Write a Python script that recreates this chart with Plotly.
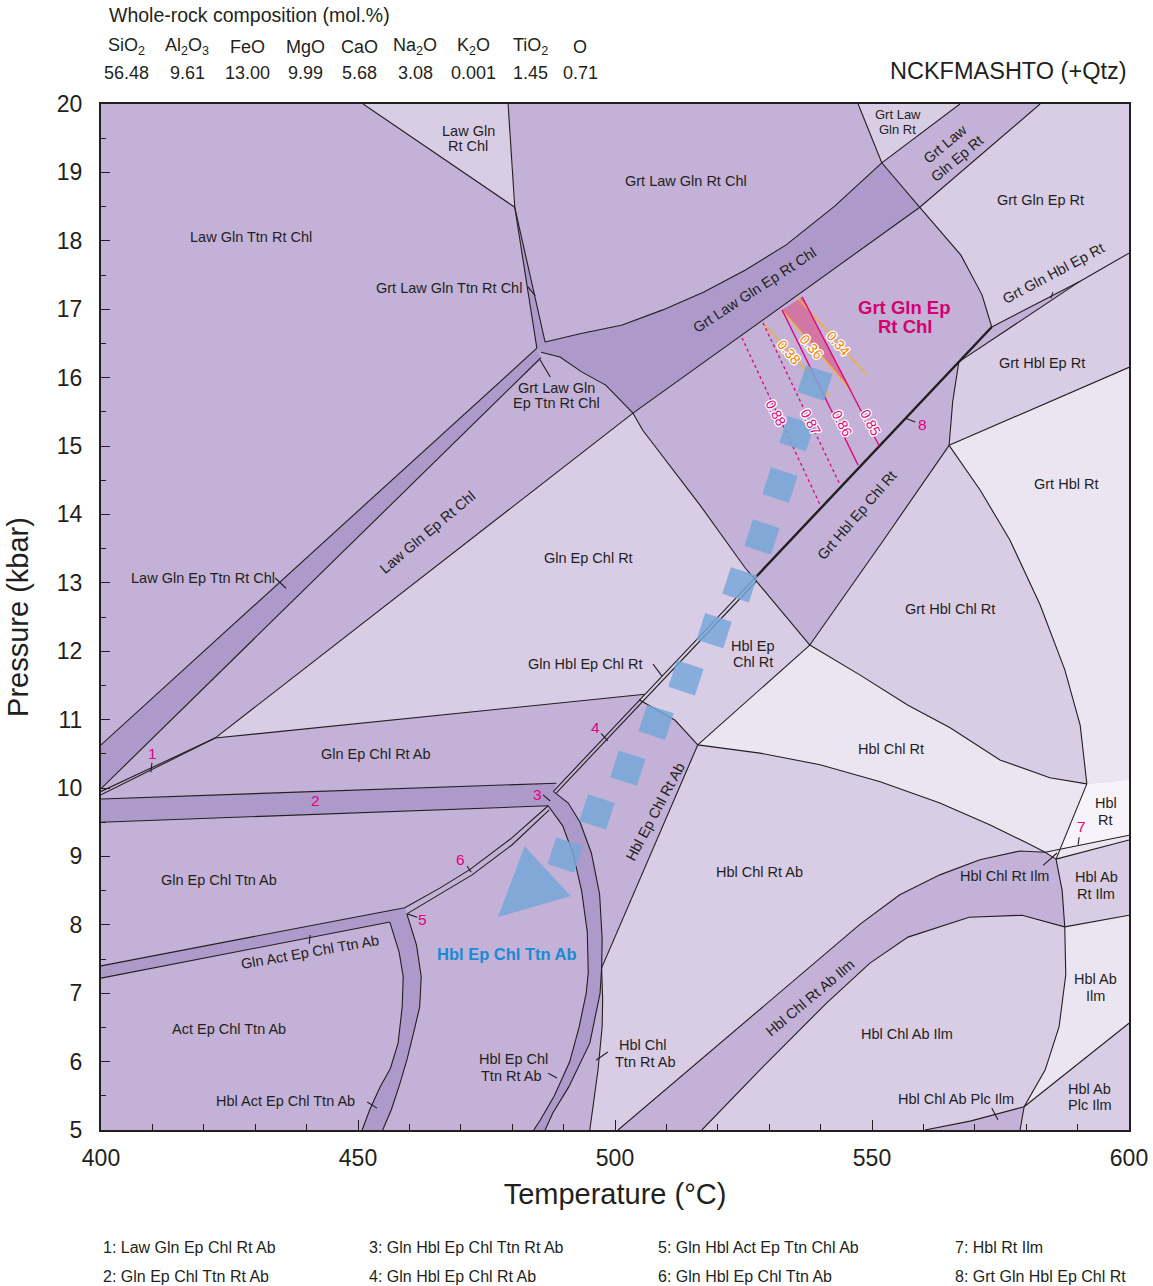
import math
import plotly.graph_objects as go

# ---------------- whole-rock composition (mol.%) ----------------
OXIDES = ["SiO<sub>2</sub>", "Al<sub>2</sub>O<sub>3</sub>", "FeO", "MgO", "CaO",
          "Na<sub>2</sub>O", "K<sub>2</sub>O", "TiO<sub>2</sub>", "O"]
MOL_PERCENT = ["56.48", "9.61", "13.00", "9.99", "5.68", "3.08", "0.001", "1.45", "0.71"]

# ---------------- axis ranges ----------------
T_RANGE = [400, 600]   # °C
P_RANGE = [5, 20]      # kbar

# ---------------- field boundaries (T °C, P kbar) ----------------
LGRC_LEFT = [(451.0, 20.0), (480.5, 18.49)]
LGRC_RIGHT = [(479.2, 20.0), (479.8, 19.33), (480.5, 18.49)]
SLIVER_A = [(480.5, 18.49), (484.8, 16.43)]
SLIVER_B = [(480.5, 18.49), (486.4, 16.52)]
LGETRC_UP = [(400.0, 10.63), (484.8, 16.43)]
LGETRC_LO = [(400.0, 9.99), (485.6, 16.29)]
BAND_UP = [(486.4, 16.52), (493.2, 16.64), (501.4, 16.77), (509.3, 16.99), (517.3, 17.25),
           (525.3, 17.57), (533.3, 17.94), (542.8, 18.51), (551.9, 19.14)]
BAND_LO = [(559.3, 18.49), (503.5, 15.48)]
ARC_J1 = [(485.6, 16.37), (489.3, 16.30), (493.6, 16.08), (498.2, 15.89), (503.5, 15.48)]
C1 = [(547.3, 20.0), (551.9, 19.14), (559.3, 18.49), (567.3, 17.79), (571.4, 17.21), (573.3, 16.74)]
GLGR_RIGHT = [(567.1, 20.0), (551.9, 19.14)]
GLGER_RIGHT = [(582.7, 20.0), (559.3, 18.49)]
U_LINE = [(573.3, 16.74), (590.5, 17.41), (600.0, 17.82)]
V_LINE = [(566.9, 16.23), (590.5, 17.41)]
D_MAIN = [(488.0, 9.95), (573.3, 16.74)]
D_TWIN = [(488.6, 9.93), (527.6, 13.03)]
D_THICK = [(527.1, 13.06), (573.3, 16.74)]
C2 = [(566.9, 16.23), (565.7, 15.65), (565.0, 15.01)]
W_LINE = [(565.0, 15.01), (600.0, 16.15)]
G_CURVE = [(565.0, 15.01), (571.0, 14.36), (576.8, 13.63), (582.7, 12.68), (587.5, 11.73),
           (590.5, 10.92), (591.8, 10.06)]
E_LINE = [(565.0, 15.01), (552.3, 13.63), (537.9, 12.09)]
F_CURVE = [(537.9, 12.09), (547.7, 11.65), (557.0, 11.21), (565.2, 10.88), (574.9, 10.41),
           (584.6, 10.15), (591.8, 10.06)]
H_LINE = [(591.8, 10.06), (585.8, 8.96)]
L7A = [(583.7, 9.06), (600.0, 9.31)]
L7B = [(585.8, 8.96), (600.0, 9.24)]
K_CURVE = [(516.1, 10.63), (528.2, 10.51), (539.9, 10.34), (551.6, 10.09), (563.2, 9.78),
           (573.0, 9.46), (579.8, 9.21), (583.7, 9.06)]
M_CURVE = [(500.6, 5.0), (512.6, 5.77), (524.3, 6.52), (536.0, 7.27), (547.7, 8.01), (555.4, 8.44),
           (563.2, 8.73), (571.0, 8.95), (578.8, 9.08), (583.7, 9.06), (585.8, 8.96)]
N_CURVE = [(516.9, 5.0), (528.2, 5.88), (541.2, 6.86), (549.6, 7.44), (557.0, 7.82), (568.9, 8.11),
           (579.2, 8.14), (587.5, 7.97)]
R_CURVE = [(585.8, 8.96), (587.0, 8.50), (587.5, 7.97)]
S_CURVE = [(587.5, 7.97), (587.7, 7.27), (586.4, 6.51), (583.7, 5.88), (579.6, 5.34), (578.8, 5.0)]
PLC_CURVE = [(560.3, 5.0), (569.1, 5.13), (579.6, 5.34)]
X_LINE = [(587.5, 7.97), (600.0, 8.14)]
Y_LINE = [(579.6, 5.34), (600.0, 6.56)]
A1_LINE = [(422.2, 10.73), (503.5, 15.48)]
A2_LINE = [(503.5, 15.48), (505.4, 15.23), (516.5, 14.14), (525.3, 13.22), (527.1, 13.06), (537.9, 12.09)]
A3_LINE = [(422.2, 10.73), (505.8, 11.37)]
Z_CURVE = [(504.7, 11.29), (511.7, 10.99), (516.1, 10.63)]
J_LINE = [(537.9, 12.09), (516.1, 10.63)]
Q_LINE = [(497.4, 7.37), (516.1, 10.63)]
LENS = [(497.4, 7.37), (497.6, 6.90), (497.5, 6.51), (496.7, 5.88), (495.1, 5.0)]
S1A = [(400.0, 9.95), (422.2, 10.73)]
S1B = [(400.0, 9.90), (422.2, 10.73)]
B2_UP = [(400.0, 9.84), (488.6, 10.07)]
B2_LO = [(400.0, 9.50), (487.0, 9.74)]
ARC3_OUT = [(488.0, 9.95), (490.9, 9.78), (493.2, 9.50), (495.4, 9.05), (497.0, 8.45), (497.5, 7.80),
            (497.4, 7.37), (497.1, 7.0), (495.1, 6.27), (491.0, 5.63), (487.9, 5.25), (486.4, 5.0)]
ARC3_IN = [(487.0, 9.74), (489.8, 9.45), (491.8, 9.05), (493.5, 8.50), (494.6, 7.90), (494.8, 7.3),
           (494.4, 7.0), (493.0, 6.5), (491.2, 6.0), (488.2, 5.5), (485.5, 5.15), (484.2, 5.0)]
S6A = [(459.1, 8.25), (466.0, 8.54), (471.8, 8.81), (479.6, 9.25), (487.0, 9.74)]
S6B = [(459.5, 8.16), (466.3, 8.46), (472.2, 8.73), (480.0, 9.17), (487.2, 9.68)]
GAE_UP = [(400.0, 7.40), (459.1, 8.25)]
GAE_LO = [(400.0, 7.22), (456.2, 8.04)]
HAE_OUT = [(459.5, 8.16), (461.4, 7.70), (462.3, 7.24), (462.0, 6.80), (461.1, 6.51), (459.6, 6.05),
           (458.2, 5.69), (456.5, 5.3), (454.8, 5.0)]
HAE_IN = [(456.2, 8.04), (458.0, 7.6), (458.8, 7.24), (458.6, 6.8), (457.8, 6.27), (456.3, 5.9),
          (454.3, 5.63), (452.3, 5.3), (450.8, 5.0)]

BOUNDARIES = [LGRC_LEFT, LGRC_RIGHT, SLIVER_A, SLIVER_B, LGETRC_UP, LGETRC_LO, BAND_UP, BAND_LO,
              ARC_J1, C1, GLGR_RIGHT, GLGER_RIGHT, U_LINE, V_LINE, D_MAIN, D_TWIN, C2, W_LINE,
              G_CURVE, E_LINE, F_CURVE, H_LINE, L7A, L7B, K_CURVE, M_CURVE, N_CURVE, R_CURVE,
              S_CURVE, PLC_CURVE, X_LINE, Y_LINE, A1_LINE, A2_LINE, A3_LINE, Z_CURVE, J_LINE,
              Q_LINE, LENS, S1A, S1B, B2_UP, B2_LO, ARC3_OUT, ARC3_IN, S6A, S6B, GAE_UP, GAE_LO,
              HAE_OUT, HAE_IN]

# short leader ticks from labels to small fields
LEADERS = [
    [(483.0, 17.33), (484.5, 17.20)],
    [(433.9, 13.07), (436.0, 12.92)],
    [(485.4, 16.26), (487.4, 16.01)],
    [(409.9, 10.37), (409.7, 10.23)],
    [(486.0, 9.90), (487.4, 9.81)],
    [(497.3, 10.80), (498.6, 10.69)],
    [(461.5, 8.11), (459.6, 8.16)],
    [(471.2, 8.86), (472.0, 8.77)],
    [(590.3, 9.28), (590.1, 9.17)],
    [(556.4, 15.41), (558.4, 15.35)],
    [(507.4, 11.81), (509.1, 11.64)],
    [(583.3, 8.87), (586.0, 9.05)],
    [(487.0, 5.83), (488.7, 5.76)],
    [(496.3, 6.02), (498.6, 6.14)],
    [(451.8, 5.41), (453.7, 5.32)],
    [(573.3, 5.32), (574.5, 5.15)],
    [(440.7, 7.85), (440.5, 7.72)],
    [(585.2, 17.25), (584.8, 17.16)],
]

# ---------------- fields, grouped by number of phases ----------------
# 6-phase fields
DARK_FIELDS = [
    [(400.0, 10.63), (484.8, 16.43), (485.6, 16.29), (400.0, 9.99)],
    [(480.5, 18.49), (484.8, 16.43), (485.6, 16.37), (486.4, 16.52)],
    BAND_UP + [(559.3, 18.49), (503.5, 15.48), (498.2, 15.89), (493.6, 16.08), (489.3, 16.30), (485.6, 16.37)],
    [(400.0, 9.84), (488.6, 10.07), (488.0, 9.95), (487.0, 9.74), (400.0, 9.50)],
    ARC3_OUT + ARC3_IN[::-1],
    [(400.0, 7.40), (459.1, 8.25), (459.5, 8.16), (456.2, 8.04), (400.0, 7.22)],
    HAE_OUT + HAE_IN[::-1],
]
# 4-phase fields
LIGHT_FIELDS = [
    [(451.0, 20.0), (479.2, 20.0), (479.8, 19.33), (480.5, 18.49)],
    [(547.3, 20.0), (567.1, 20.0), (551.9, 19.14)],
    [(582.7, 20.0), (600.0, 20.0), (600.0, 17.82), (590.5, 17.41), (573.3, 16.74), (571.4, 17.21),
     (567.3, 17.79), (559.3, 18.49)],
    [(566.9, 16.23), (590.5, 17.41), (600.0, 17.82), (600.0, 16.15), (565.0, 15.01), (565.7, 15.65)],
    [(422.2, 10.73), (503.5, 15.48), (505.4, 15.23), (516.5, 14.14), (525.3, 13.22), (527.1, 13.06),
     (505.8, 11.37)],
    [(504.7, 11.29), (527.1, 13.06), (537.9, 12.09), (516.1, 10.63), (511.7, 10.99)],
    E_LINE + F_CURVE[1:] + G_CURVE[::-1][1:],
    Q_LINE + K_CURVE[1:] + M_CURVE[:-2][::-1] + [(495.1, 5.0)] + LENS[::-1][1:],
    N_CURVE + S_CURVE[1:-1] + PLC_CURVE[::-1][1:],
    [(579.6, 5.34), (600.0, 6.56), (600.0, 5.0), (578.8, 5.0)],
    [(585.8, 8.96), (600.0, 9.24), (600.0, 8.14), (587.5, 7.97), (587.0, 8.50)],
]
# 3-phase fields
LIGHTEST_FIELDS = [
    W_LINE + [(600.0, 10.12)] + G_CURVE[::-1][:-1],
    F_CURVE + [(586.6, 9.10)] + K_CURVE[::-1],
    [(587.5, 7.97), (600.0, 8.14), (600.0, 6.56), (579.6, 5.34), (583.7, 5.88), (586.4, 6.51), (587.7, 7.27)],
    [(583.7, 9.06), (600.0, 9.31), (600.0, 9.24), (585.8, 8.96)],
]
# 2-phase field
WHITE_FIELDS = [
    [(591.8, 10.06), (600.0, 10.12), (600.0, 9.31), (586.6, 9.10)],
]

# ---------------- Grt isopleths ----------------
XGRS_PEAK = [(532.5, 16.99), (536.4, 17.18), (546.1, 15.80)]
ISO_085 = [(536.4, 17.18), (551.4, 15.00)]
ISO_086 = [(532.5, 16.99), (547.3, 14.72)]
ISO_087 = [(528.8, 16.80), (543.8, 14.43)]
ISO_088 = [(524.7, 16.58), (539.9, 14.14)]
ISO_034 = [(535.6, 17.16), (549.0, 16.04)]
ISO_036 = [(532.5, 16.99), (546.1, 15.80)]
ISO_038 = [(528.8, 16.80), (541.8, 15.72)]
ISO_LABELS = [("0.34", 543.4, 16.51, "or"), ("0.36", 538.3, 16.45, "or"), ("0.38", 533.8, 16.37, "or"),
              ("0.88", 531.3, 15.48, "pk"), ("0.87", 538.1, 15.35, "pk"), ("0.86", 544.2, 15.34, "pk"),
              ("0.85", 549.8, 15.34, "pk")]

# ---------------- P–T path ----------------
PATH_T = [538.9, 535.4, 532.1, 528.6, 524.3, 519.3, 513.8, 508.0, 502.5, 496.5, 490.3]
PATH_P = [15.92, 15.18, 14.43, 13.67, 12.97, 12.30, 11.61, 10.96, 10.29, 9.65, 9.02]
ARROW_TIP_T = 477.2
ARROW_TIP_P = 8.11

# ---------------- labels ----------------
FIELD_LABELS = [
    ("Law Gln", 471.4, 19.61, 0), ("Rt Chl", 471.4, 19.39, 0),
    ("Grt Law Gln Rt Chl", 513.8, 18.87, 0),
    ("Grt Gln Ep Rt", 582.7, 18.60, 0),
    ("Law Gln Ttn Rt Chl", 429.2, 18.06, 0),
    ("Grt Law Gln Ttn Rt Chl", 467.7, 17.31, 0),
    ("Grt Hbl Ep Rt", 583.1, 16.21, 0),
    ("Grt Law Gln", 488.7, 15.85, 0), ("Ep Ttn Rt Chl", 488.7, 15.63, 0),
    ("Grt Hbl Rt", 587.7, 14.44, 0),
    ("Gln Ep Chl Rt", 494.9, 13.36, 0),
    ("Law Gln Ep Ttn Rt Chl", 419.8, 13.07, 0),
    ("Grt Hbl Chl Rt", 565.2, 12.62, 0),
    ("Hbl Ep", 526.8, 12.08, 0), ("Chl Rt", 526.8, 11.84, 0),
    ("Gln Hbl Ep Chl Rt", 494.2, 11.81, 0),
    ("Gln Ep Chl Rt Ab", 453.5, 10.50, 0),
    ("Hbl Chl Rt", 553.7, 10.57, 0),
    ("Hbl", 595.5, 9.78, 0), ("Rt", 595.5, 9.53, 0),
    ("Gln Ep Chl Ttn Ab", 423.0, 8.65, 0),
    ("Hbl Chl Rt Ab", 528.2, 8.77, 0),
    ("Hbl Chl Rt Ilm", 575.7, 8.71, 0),
    ("Hbl Ab", 593.6, 8.70, 0), ("Rt Ilm", 593.6, 8.45, 0),
    ("Hbl Ab", 593.4, 7.21, 0), ("Ilm", 593.4, 6.96, 0),
    ("Act Ep Chl Ttn Ab", 424.9, 6.48, 0),
    ("Hbl Chl Ab Ilm", 556.8, 6.40, 0),
    ("Hbl Ep Chl", 480.2, 6.04, 0), ("Ttn Rt Ab", 479.8, 5.79, 0),
    ("Hbl Chl", 505.4, 6.24, 0), ("Ttn Rt Ab", 505.8, 5.99, 0),
    ("Hbl Act Ep Chl Ttn Ab", 435.8, 5.42, 0),
    ("Hbl Chl Ab Plc Ilm", 566.3, 5.45, 0),
    ("Hbl Ab", 592.4, 5.60, 0), ("Plc Ilm", 592.4, 5.37, 0),
    ("Grt Law<br>Gln Ep Rt", 565.4, 19.30, -40),
    ("Grt Law Gln Ep Rt Chl", 527.2, 17.28, -33),
    ("Grt Gln Hbl Ep Rt", 585.4, 17.53, -28),
    ("Law Gln Ep Rt Chl", 463.6, 13.74, -40),
    ("Grt Hbl Ep Chl Rt", 547.1, 13.99, -49),
    ("Hbl Ep Chl Rt Ab", 507.8, 9.65, -62),
    ("Gln Act Ep Chl Ttn Ab", 440.7, 7.60, -10),
    ("Hbl Chl Rt Ab Ilm", 537.9, 6.93, -40),
]
SMALL_LABELS = [("Grt Law", 555.0, 19.85), ("Gln Rt", 555.0, 19.63)]
NUMBER_LABELS = [("1", 410.1, 10.51), ("2", 441.8, 9.82), ("3", 485.0, 9.90), ("4", 496.3, 10.88),
                 ("5", 462.5, 8.08), ("6", 470.0, 8.96), ("7", 590.7, 9.43), ("8", 559.9, 15.32)]
LEGEND_ITEMS = ["1: Law Gln Ep Chl Rt Ab", "2: Gln Ep Chl Ttn Rt Ab",
                "3: Gln Hbl Ep Chl Ttn Rt Ab", "4: Gln Hbl Ep Chl Rt Ab",
                "5: Gln Hbl Act Ep Ttn Chl Ab", "6: Gln Hbl Ep Chl Ttn Ab",
                "7: Hbl Rt Ilm", "8: Grt Gln Hbl Ep Chl Rt"]

# ---------------- styling ----------------
FONT = "Liberation Sans"
INK = "#231f20"
PHASE6 = "#ae99cb"
PHASE5 = "#c3b1d7"
PHASE4 = "#d9cde6"
PHASE3 = "#ebe5f2"
PHASE2 = "#f6f3fa"
PINK = "#e4007f"
ORANGE_LINE = "#f7b21e"
ORANGE_TEXT = "#f08300"
PATH_BLUE = "rgba(119,167,216,0.85)"
HALO = ("1px 1px 0 #fff, -1px -1px 0 #fff, 1px -1px 0 #fff, -1px 1px 0 #fff, "
        "0 1px 0 #fff, 0 -1px 0 #fff, 1px 0 0 #fff, -1px 0 0 #fff")

WIDTH, HEIGHT = 1153, 1286
ML, MR, MT, MB = 101, 24, 104, 156
PX_PER_T = (WIDTH - ML - MR) / (T_RANGE[1] - T_RANGE[0])
PX_PER_P = (HEIGHT - MT - MB) / (P_RANGE[1] - P_RANGE[0])
ARROW_LEN_PX = 68
ARROW_HALF_PX = 34


def fx(px):
    return (px - ML) / (WIDTH - ML - MR)


def fy(py):
    return (HEIGHT - MB - py) / (HEIGHT - MT - MB)


fig = go.Figure()


def add_fill(poly, color):
    fig.add_trace(go.Scatter(x=[p[0] for p in poly], y=[p[1] for p in poly], mode="lines",
                             fill="toself", fillcolor=color, line=dict(width=0, color=color),
                             hoverinfo="skip", showlegend=False))


def add_lines(curves, color, width, dash="solid"):
    xs, ys = [], []
    for c in curves:
        xs += [p[0] for p in c] + [None]
        ys += [p[1] for p in c] + [None]
    fig.add_trace(go.Scatter(x=xs, y=ys, mode="lines",
                             line=dict(color=color, width=width, dash=dash),
                             hoverinfo="skip", showlegend=False))


for poly in LIGHT_FIELDS:
    add_fill(poly, PHASE4)
for poly in LIGHTEST_FIELDS:
    add_fill(poly, PHASE3)
for poly in WHITE_FIELDS:
    add_fill(poly, PHASE2)
for poly in DARK_FIELDS:
    add_fill(poly, PHASE6)
add_fill(XGRS_PEAK, "rgba(222,70,120,0.55)")

add_lines(BOUNDARIES + LEADERS, INK, 1.1)
add_lines([D_THICK], INK, 2.4)

add_lines([ISO_034, ISO_036, ISO_038], ORANGE_LINE, 1.3)
add_lines([ISO_085, ISO_086], PINK, 1.3)
add_lines([ISO_087, ISO_088], PINK, 1.3, "dot")

# path squares
fig.add_trace(go.Scatter(x=PATH_T, y=PATH_P, mode="markers", hoverinfo="skip", showlegend=False,
                         marker=dict(symbol="square", size=28, angle=18, color=PATH_BLUE,
                                     line=dict(width=0))))

# arrowhead: pointing from the last path step to the tip, sized in screen pixels
ux = (ARROW_TIP_T - PATH_T[-1]) * PX_PER_T
uy = (ARROW_TIP_P - PATH_P[-1]) * PX_PER_P
norm = math.hypot(ux, uy)
ux, uy = ux / norm, uy / norm
base_t = ARROW_TIP_T - ux * ARROW_LEN_PX / PX_PER_T
base_p = ARROW_TIP_P - uy * ARROW_LEN_PX / PX_PER_P
arrow_t = [ARROW_TIP_T, base_t - uy * ARROW_HALF_PX / PX_PER_T, base_t + uy * ARROW_HALF_PX / PX_PER_T]
arrow_p = [ARROW_TIP_P, base_p + ux * ARROW_HALF_PX / PX_PER_P, base_p - ux * ARROW_HALF_PX / PX_PER_P]
fig.add_trace(go.Scatter(x=arrow_t, y=arrow_p, mode="lines", fill="toself", fillcolor=PATH_BLUE,
                         line=dict(width=0, color=PATH_BLUE), hoverinfo="skip", showlegend=False))

for text, t, p, ang in FIELD_LABELS:
    fig.add_annotation(x=t, y=p, text=text, showarrow=False, textangle=ang,
                       font=dict(family=FONT, size=14.5, color=INK))
for text, t, p in SMALL_LABELS:
    fig.add_annotation(x=t, y=p, text=text, showarrow=False,
                       font=dict(family=FONT, size=13, color=INK))
for text, t, p in NUMBER_LABELS:
    fig.add_annotation(x=t, y=p, text=text, showarrow=False,
                       font=dict(family=FONT, size=15.5, color=PINK))
for text, t, p, kind in ISO_LABELS:
    fig.add_annotation(x=t, y=p, text=text, showarrow=False, textangle=49 if kind == "or" else 62,
                       font=dict(family=FONT, size=14, color=ORANGE_TEXT if kind == "or" else PINK,
                                 shadow=HALO))
fig.add_annotation(x=556.4, y=17.02, text="<b>Grt Gln Ep</b>", showarrow=False,
                   font=dict(family=FONT, size=18.5, color="#d4006e"))
fig.add_annotation(x=556.4, y=16.74, text="<b>Rt Chl</b>", showarrow=False,
                   font=dict(family=FONT, size=18.5, color="#d4006e"))
fig.add_annotation(x=479.0, y=7.57, text="<b>Hbl Ep Chl Ttn Ab</b>", showarrow=False,
                   font=dict(family=FONT, size=16.5, color="#1a8ad4"))

# composition header
OX_COLUMNS = [126, 187, 247, 305, 359, 415, 473, 530, 580]
HEADER_SIZE = 18
fig.add_annotation(xref="paper", yref="paper", x=fx(107), y=fy(15), xanchor="left", yanchor="middle",
                   text="Whole-rock composition (mol.%)", showarrow=False,
                   font=dict(family=FONT, size=19.5, color=INK))
for name, val, col in zip(OXIDES, MOL_PERCENT, OX_COLUMNS):
    fig.add_annotation(xref="paper", yref="paper", x=fx(col), y=fy(47), text=name,
                       xanchor="center", yanchor="middle", showarrow=False,
                       font=dict(family=FONT, size=HEADER_SIZE, color=INK))
    fig.add_annotation(xref="paper", yref="paper", x=fx(col), y=fy(73), text=val,
                       xanchor="center", yanchor="middle", showarrow=False,
                       font=dict(family=FONT, size=HEADER_SIZE, color=INK))
fig.add_annotation(xref="paper", yref="paper", x=fx(1129), y=fy(71), xanchor="right", yanchor="middle",
                   text="NCKFMASHTO (+Qtz)", showarrow=False,
                   font=dict(family=FONT, size=23.5, color=INK))

# numbered small-field key
LEGEND_COLUMNS = [101, 367, 656, 953]
LEGEND_ROWS = [1247, 1276]
for i, item in enumerate(LEGEND_ITEMS):
    fig.add_annotation(xref="paper", yref="paper", x=fx(LEGEND_COLUMNS[i // 2]),
                       y=fy(LEGEND_ROWS[i % 2]), xanchor="left", yanchor="middle",
                       text=item, showarrow=False,
                       font=dict(family=FONT, size=16, color=INK))

axis_common = dict(showline=True, linewidth=2, linecolor=INK, mirror=True, showgrid=False,
                   zeroline=False, ticks="inside", tickcolor=INK, tickwidth=1.2,
                   tickfont=dict(family=FONT, size=23, color=INK))
fig.update_xaxes(range=T_RANGE, tick0=400, dtick=50, ticklen=10, ticklabelstandoff=6,
                 minor=dict(dtick=10, ticks="inside", ticklen=6, tickcolor=INK, tickwidth=1.2),
                 title=dict(text="Temperature (°C)", standoff=14,
                            font=dict(family=FONT, size=29, color=INK)),
                 **axis_common)
fig.update_yaxes(range=P_RANGE, tick0=5, dtick=1, ticklen=9, ticklabelstandoff=12,
                 minor=dict(dtick=0.5, ticks="inside", ticklen=5, tickcolor=INK, tickwidth=1.2),
                 title=dict(text="Pressure (kbar)", standoff=20,
                            font=dict(family=FONT, size=29, color=INK)),
                 **axis_common)

fig.update_layout(width=WIDTH, height=HEIGHT, autosize=False,
                  margin=dict(l=ML, r=MR, t=MT, b=MB, autoexpand=False),
                  plot_bgcolor=PHASE5, paper_bgcolor="white", showlegend=False,
                  font=dict(family=FONT, color=INK))

fig.write_html("out.html", config={"responsive": False},
               default_width=f"{WIDTH}px", default_height=f"{HEIGHT}px")
